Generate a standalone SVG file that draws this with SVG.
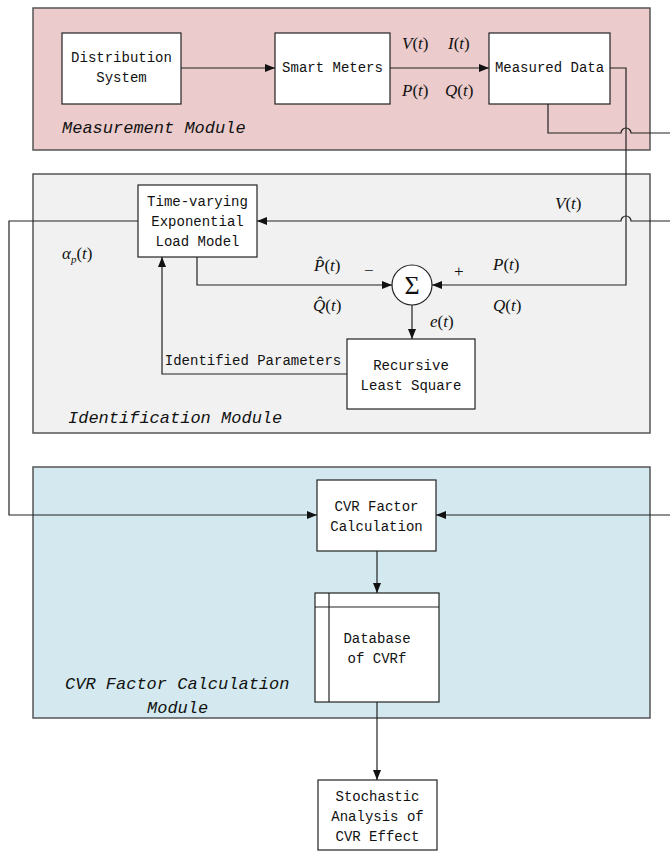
<svg xmlns="http://www.w3.org/2000/svg" width="670" height="851" viewBox="0 0 670 851">
<style>
.mod{stroke:#555;stroke-width:1.5}
.box{fill:#fff;stroke:#222;stroke-width:1.2}
.t{font-family:"Liberation Mono","DejaVu Sans Mono",monospace;font-size:14px;fill:#111;text-anchor:middle}
.ml{font-family:"Liberation Mono","DejaVu Sans Mono",monospace;font-size:17px;font-style:italic;fill:#111}
.m{font-family:"Liberation Serif","Times New Roman",serif;font-size:17px;fill:#111}
.i{font-style:italic}
.c{fill:none;stroke:#222;stroke-width:1.2}
</style>
<defs>
<marker id="ah" viewBox="0 0 10 10" refX="10" refY="5" markerWidth="10" markerHeight="10" markerUnits="userSpaceOnUse" orient="auto">
<path d="M0,1 L10,5 L0,9 z" fill="#111"/>
</marker>
</defs>

<g id="measurement-module">
<rect class="mod" x="33" y="8" width="617" height="142" fill="#ebcbcb"/>
<text class="ml" x="62" y="133">Measurement Module</text>
</g>
<g id="identification-module">
<rect class="mod" x="33" y="174" width="617" height="259" fill="#f1f1f1"/>
<text class="ml" x="68" y="423">Identification Module</text>
</g>
<g id="cvr-module">
<rect class="mod" x="33" y="467" width="617" height="251" fill="#d3e9ef"/>
<text class="ml" x="65" y="689">CVR Factor Calculation</text>
<text class="ml" x="147" y="713">Module</text>
</g>

<g id="connectors">
<path class="c" d="M181,68 H275" marker-end="url(#ah)"/>
<path class="c" d="M390,68 H489" marker-end="url(#ah)"/>
<path class="c" d="M610,68 H626 V285 H432" marker-end="url(#ah)"/>
<path class="c" d="M548,104 V133 H621 A5,5 0 0 1 631,133 H670"/>
<path class="c" d="M670,221 H631 A5,5 0 0 0 621,221 H257" marker-end="url(#ah)"/>
<path class="c" d="M138,221 H9 V515 H317" marker-end="url(#ah)"/>
<path class="c" d="M197,257 V285 H392" marker-end="url(#ah)"/>
<path class="c" d="M412,305 V339" marker-end="url(#ah)"/>
<path class="c" d="M347,374 H162 V257" marker-end="url(#ah)"/>
<path class="c" d="M670,515 H436" marker-end="url(#ah)"/>
<path class="c" d="M377,551 V593" marker-end="url(#ah)"/>
<path class="c" d="M377,702 V780" marker-end="url(#ah)"/>
</g>

<g id="labels">
<text class="m" x="402" y="49"><tspan class="i">V</tspan>(<tspan class="i">t</tspan>)</text>
<text class="m" x="448" y="49"><tspan class="i">I</tspan>(<tspan class="i">t</tspan>)</text>
<text class="m" x="402" y="96"><tspan class="i">P</tspan>(<tspan class="i">t</tspan>)</text>
<text class="m" x="445" y="96"><tspan class="i">Q</tspan>(<tspan class="i">t</tspan>)</text>
<text class="m" x="555" y="209"><tspan class="i">V</tspan>(<tspan class="i">t</tspan>)</text>
<text class="m" x="62" y="259"><tspan class="i">α</tspan><tspan class="i" style="font-size:11px" dy="4">p</tspan><tspan dy="-4">(</tspan><tspan class="i">t</tspan>)</text>
<text class="m" x="314" y="271"><tspan class="i">P̂</tspan>(<tspan class="i">t</tspan>)</text>
<text class="m" x="313" y="311"><tspan class="i">Q̂</tspan>(<tspan class="i">t</tspan>)</text>
<text class="m" x="364" y="276">−</text>
<text class="m" x="454" y="277">+</text>
<text class="m" x="493" y="270"><tspan class="i">P</tspan>(<tspan class="i">t</tspan>)</text>
<text class="m" x="493" y="311"><tspan class="i">Q</tspan>(<tspan class="i">t</tspan>)</text>
<text class="m" x="430" y="327"><tspan class="i">e</tspan>(<tspan class="i">t</tspan>)</text>
<text class="t" x="253" y="365">Identified Parameters</text>
</g>

<g id="distribution-system">
<rect class="box" x="62" y="33" width="119" height="71"/>
<text class="t" x="121.5" y="62">Distribution</text>
<text class="t" x="121.5" y="82">System</text>
</g>
<g id="smart-meters">
<rect class="box" x="275" y="33" width="115" height="71"/>
<text class="t" x="332.5" y="72">Smart Meters</text>
</g>
<g id="measured-data">
<rect class="box" x="489" y="33" width="121" height="71"/>
<text class="t" x="549.5" y="72">Measured Data</text>
</g>
<g id="load-model">
<rect class="box" x="138" y="185" width="119" height="72"/>
<text class="t" x="197.5" y="206">Time-varying</text>
<text class="t" x="197.5" y="226">Exponential</text>
<text class="t" x="197.5" y="246">Load Model</text>
</g>
<g id="sum">
<circle cx="412" cy="285" r="20" fill="#fff" stroke="#222" stroke-width="1.2"/>
<text class="m" x="412" y="294" text-anchor="middle" style="font-size:26px">Σ</text>
</g>
<g id="rls">
<rect class="box" x="347" y="339" width="128" height="70"/>
<text class="t" x="411" y="370">Recursive</text>
<text class="t" x="411" y="390">Least Square</text>
</g>
<g id="cvr-factor">
<rect class="box" x="317" y="480" width="119" height="71"/>
<text class="t" x="376.5" y="511">CVR Factor</text>
<text class="t" x="376.5" y="531">Calculation</text>
</g>
<g id="database">
<rect class="box" x="315" y="593" width="124" height="109"/>
<line class="c" x1="315" y1="607" x2="439" y2="607"/>
<line class="c" x1="329" y1="593" x2="329" y2="702"/>
<text class="t" x="377" y="643">Database</text>
<text class="t" x="377" y="663">of CVRf</text>
</g>
<g id="stochastic">
<rect class="box" x="318" y="780" width="119" height="70"/>
<text class="t" x="377.5" y="801">Stochastic</text>
<text class="t" x="377.5" y="821">Analysis of</text>
<text class="t" x="377.5" y="841">CVR Effect</text>
</g>
</svg>
